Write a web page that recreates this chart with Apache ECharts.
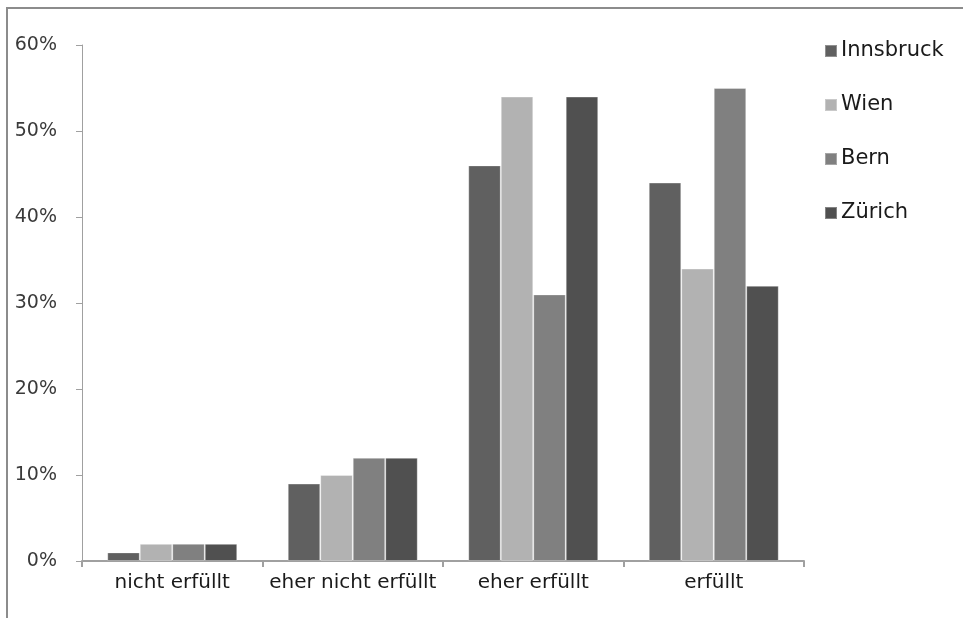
<!DOCTYPE html>
<html>
<head>
<meta charset="utf-8">
<script src="https://cdn.jsdelivr.net/npm/echarts@6/dist/echarts.min.js"></script>
<style>html,body{margin:0;padding:0;background:#fff}#c{width:963px;height:618px}</style>
</head>
<body>
<div id="c"></div>
<script>
var categories = ['nicht erfüllt', 'eher nicht erfüllt', 'eher erfüllt', 'erfüllt'];
var seriesNames = ['Innsbruck', 'Wien', 'Bern', 'Zürich'];
var innsbruck = [1, 9, 46, 44];
var wien = [2, 10, 54, 34];
var bern = [2, 12, 31, 55];
var zuerich = [2, 12, 54, 32];
var colors = ['#606060', '#b2b2b2', '#808080', '#505050'];
var values = [innsbruck, wien, bern, zuerich];

var chart = echarts.init(document.getElementById('c'), null, {renderer: 'canvas'});
chart.setOption({
  animation: false,
  backgroundColor: '#fff',
  grid: {left: 82, right: 159, top: 45, bottom: 57},
  legend: {
    orient: 'vertical', left: 819, top: 35,
    itemWidth: 12, itemHeight: 12, itemGap: 32,
    icon: 'rect',
    textStyle: {fontFamily: 'DejaVu Sans', fontSize: 21, color: '#1a1a1a', lineHeight: 22, padding: [0,0,0,-1]},
    data: seriesNames
  },
  xAxis: {
    type: 'category', data: categories,
    axisLine: {lineStyle: {color: '#a0a0a0', width: 2}},
    axisTick: {show: true, length: 6, lineStyle: {color: '#a0a0a0', width: 2}},
    axisLabel: {interval: 0, fontFamily: 'DejaVu Sans', fontSize: 20, color: '#1a1a1a', margin: 12}
  },
  yAxis: {
    type: 'value', min: 0, max: 60, interval: 10,
    splitLine: {show: false},
    axisLine: {show: true, lineStyle: {color: '#a0a0a0', width: 1}},
    axisTick: {show: true, length: 6, lineStyle: {color: '#a0a0a0'}},
    axisLabel: {fontFamily: 'DejaVu Sans', fontSize: 19, color: '#3a3a3a', margin: 25, formatter: '{value}%'}
  },
  series: seriesNames.map(function (n, i) {
    return {
      name: n, type: 'bar', data: values[i],
      barGap: '0%', barCategoryGap: '28%',
      itemStyle: {color: colors[i], borderColor: 'rgba(255,255,255,0.3)', borderWidth: 1}
    };
  }),
  graphic: [{
    type: 'polyline', silent: true,
    shape: {points: [[7, 618], [7, 8], [963, 8]]},
    style: {stroke: '#8c8c8c', lineWidth: 2, fill: null}
  }]
});
</script>
</body>
</html>
